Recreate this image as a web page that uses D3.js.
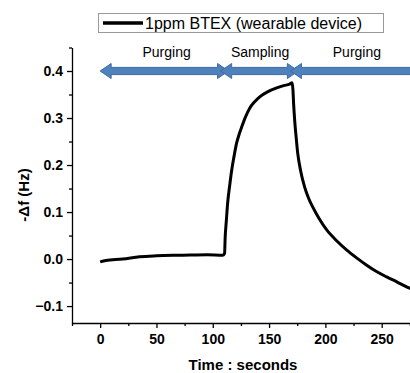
<!DOCTYPE html>
<html>
<head>
<meta charset="utf-8">
<script src="https://cdn.jsdelivr.net/npm/d3@7"></script>
<style>
  body { margin: 0; background: #fff; }
  svg { display: block; font-family: Arial, "Liberation Sans", sans-serif; }
  .axis path, .axis line { stroke: #000; stroke-width: 1.3; }
  .axis text { font-size: 14px; font-weight: bold; fill: #000; }
</style>
</head>
<body>
<svg id="chart" width="410" height="373"></svg>
<script>
// response curve
var timeSec = [0, 5, 20, 35, 50, 65, 80, 95, 109, 110.5, 111, 112, 113.2, 115, 116.8, 119, 121.2, 123.5, 125.7, 129, 132.8, 137, 141.7, 149, 156.8, 163, 168.2, 170.5, 171.2, 171.8, 172.7, 174, 175.4, 178, 181.6, 185, 188.7, 194, 201.2, 210, 219, 228, 236.7, 245, 254.4, 263, 273, 280]
var deltaF = [-0.006, -0.003, 0.0, 0.005, 0.007, 0.008, 0.0085, 0.009, 0.008, 0.012, 0.045, 0.08, 0.119, 0.156, 0.189, 0.22, 0.247, 0.266, 0.281, 0.302, 0.321, 0.334, 0.345, 0.356, 0.364, 0.369, 0.372, 0.375, 0.36, 0.33, 0.296, 0.26, 0.226, 0.188, 0.153, 0.13, 0.111, 0.088, 0.062, 0.039, 0.019, 0.002, -0.013, -0.026, -0.038, -0.048, -0.060, -0.067]

// phase arrows (start, end in seconds)
var phaseNames = ["Purging", "Sampling", "Purging"]
var phaseStart = [0, 107, 169]
var phaseEnd = [114, 176, 330]
var phaseLabelAt = [59, 142, 228]

var xTicks = [0, 50, 100, 150, 200, 250]
var yTicks = [-0.1, 0.0, 0.1, 0.2, 0.3, 0.4]

var svg = d3.select("#chart")

var x = d3.scaleLinear().domain([-25, 300]).range([72, 438])
var y = d3.scaleLinear().domain([-0.136, 0.45]).range([323, 47.5])

// axes
var xAxis = svg.append("g").attr("class", "axis")
    .attr("transform", "translate(0," + y(-0.136) + ")")
    .call(d3.axisBottom(x).tickValues(xTicks).tickSize(5).tickSizeOuter(0).tickPadding(6).tickFormat(d3.format("d")))
svg.append("g").attr("class", "axis")
    .attr("transform", "translate(0," + y(-0.136) + ")")
    .call(d3.axisBottom(x).tickValues(d3.range(-25, 300, 50)).tickSize(3).tickSizeOuter(0).tickFormat(""))
    .select("path").remove()

svg.append("g").attr("class", "axis")
    .attr("transform", "translate(" + x(-25) + ",0)")
    .call(d3.axisLeft(y).tickValues(yTicks).tickSize(5).tickSizeOuter(0).tickPadding(4).tickFormat(d3.format(".1f")))
svg.append("g").attr("class", "axis")
    .attr("transform", "translate(" + x(-25) + ",0)")
    .call(d3.axisLeft(y).tickValues([-0.05, 0.05, 0.15, 0.25, 0.35, 0.45]).tickSize(3).tickSizeOuter(0).tickFormat(""))
    .select("path").remove()

svg.append("text")
    .attr("x", 243).attr("y", 370)
    .attr("text-anchor", "middle")
    .style("font-size", "15px").style("font-weight", "bold")
    .text("Time : seconds")

svg.append("text")
    .attr("transform", "translate(29,195) rotate(-90)")
    .attr("text-anchor", "middle")
    .style("font-size", "15px").style("font-weight", "bold")
    .text("-\u0394f (Hz)")

// phase arrows
var ay = y(0.4)
function arrowPath(s, e) {
    var x0 = x(s), x1 = x(e), hl = 11, hw = 7.5, sw = 3.6
    return "M" + x0 + "," + ay +
        "L" + (x0 + hl) + "," + (ay - hw) +
        "L" + (x0 + hl) + "," + (ay - sw) +
        "L" + (x1 - hl) + "," + (ay - sw) +
        "L" + (x1 - hl) + "," + (ay - hw) +
        "L" + x1 + "," + ay +
        "L" + (x1 - hl) + "," + (ay + hw) +
        "L" + (x1 - hl) + "," + (ay + sw) +
        "L" + (x0 + hl) + "," + (ay + sw) +
        "L" + (x0 + hl) + "," + (ay + hw) + "Z"
}
svg.append("g").selectAll("path")
    .data(phaseNames)
    .enter().append("path")
    .attr("d", function (d, i) { return arrowPath(phaseStart[i], phaseEnd[i]) })
    .attr("fill", "#4f81bd")
    .attr("stroke", "#3d6aa3")
    .attr("stroke-width", 1)

svg.append("g").selectAll("text")
    .data(phaseNames)
    .enter().append("text")
    .attr("x", function (d, i) { return x(phaseLabelAt[i]) })
    .attr("y", 57)
    .attr("text-anchor", "middle")
    .style("font-size", "14px")
    .text(function (d) { return d })

// curve
var line = d3.line()
    .x(function (d, i) { return x(timeSec[i]) })
    .y(function (d) { return y(d) })
    .curve(d3.curveMonotoneX)

svg.append("path")
    .datum(deltaF)
    .attr("d", line)
    .attr("fill", "none")
    .attr("stroke", "#000")
    .attr("stroke-width", 3)
    .attr("stroke-linejoin", "round")

// legend
svg.append("rect")
    .attr("x", 98.5).attr("y", 13.5).attr("width", 285).attr("height", 19)
    .attr("fill", "#fff").attr("stroke", "#999").attr("stroke-width", 1)
svg.append("line")
    .attr("x1", 103).attr("x2", 143).attr("y1", 23).attr("y2", 23)
    .attr("stroke", "#000").attr("stroke-width", 3.5)
svg.append("text")
    .attr("x", 145).attr("y", 29)
    .style("font-size", "16px")
    .text("1ppm BTEX (wearable device)")
</script>
</body>
</html>
